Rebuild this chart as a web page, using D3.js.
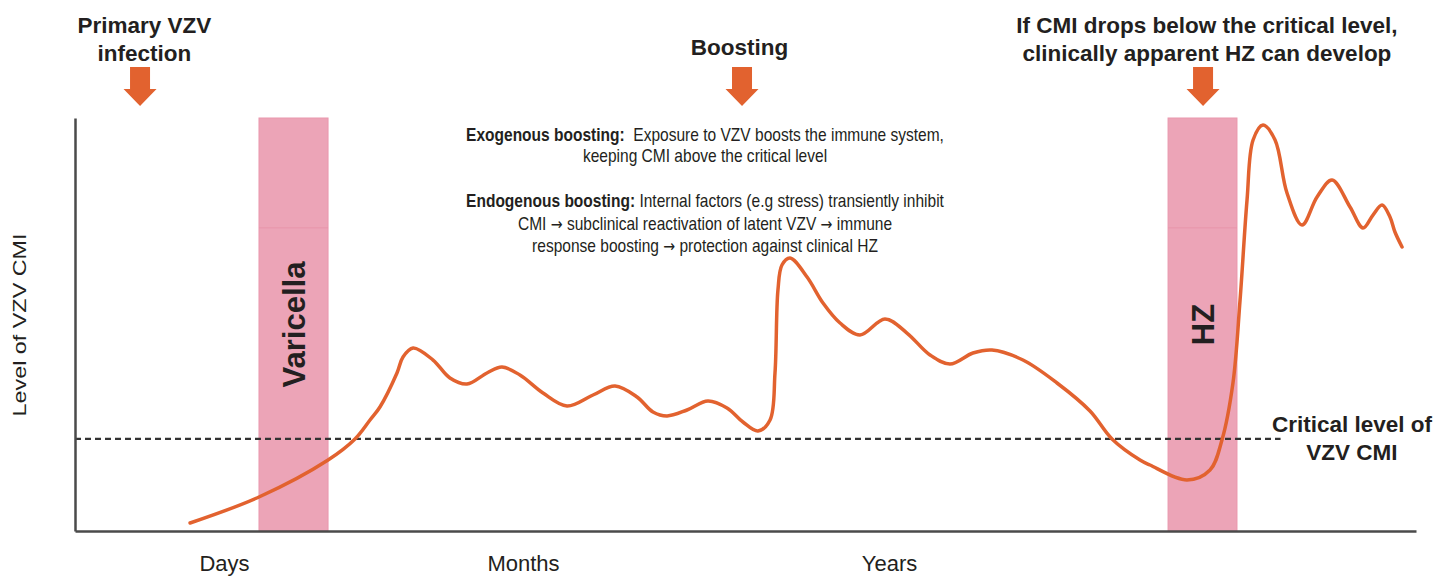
<!DOCTYPE html>
<html><head><meta charset="utf-8">
<script src="https://cdn.jsdelivr.net/npm/d3@7"></script>
<style>
body{margin:0;background:#fff}
svg{display:block}
text{font-family:"Liberation Sans",Arial,Helvetica,sans-serif;fill:#231f20}
</style>
</head><body>
<svg id="c" width="1451" height="576"></svg>
<script>
// ---- data (time index 0-100, CMI level 0-100) ----
const curveTime = [8.58,13.72,18.87,20.88,22.0,22.74,24.01,24.46,25.21,26.70,27.96,29.23,30.72,31.84,33.18,34.90,36.69,38.63,40.27,41.91,43.10,44.15,45.64,47.20,48.62,49.81,50.93,51.83,52.20,52.42,52.72,53.32,54.59,55.78,57.05,58.54,60.40,62.04,63.76,65.25,66.96,68.38,70.69,73.23,75.69,77.33,79.42,80.16,82.92,84.64,85.53,86.35,86.88,87.40,87.85,88.59,89.49,90.38,91.50,92.62,93.74,95.08,96.05,96.79,97.47,98.06,98.43,98.96];
const curveLevel = [1.94,8.23,17.19,22.28,26.88,30.02,38.26,42.13,44.31,41.40,37.05,35.59,38.26,39.71,37.77,33.41,30.27,32.93,35.11,32.45,28.81,27.85,29.30,31.48,29.78,26.39,24.21,26.88,38.26,58.35,64.41,66.10,61.50,55.21,50.36,47.46,51.33,47.94,42.62,40.44,43.10,43.83,41.40,35.84,29.06,22.28,17.19,15.98,12.35,14.77,22.03,35.84,55.93,80.15,94.67,98.31,94.67,81.84,74.09,80.87,84.99,78.45,73.37,76.51,78.93,76.03,72.40,68.77];
const criticalLevel = 22.3;
const criticalLineEnd = 89.9;
const bandLabels = ["Varicella","HZ"];
const bandStart = [13.72,81.51];
const bandEnd = [18.87,86.65];
const bandDivider = 73.4;
const timeTickPos = [11.11,33.41,60.70];
const timeTickLabels = ["Days","Months","Years"];
const arrowPos = [4.85,49.74,84.12];
const titlePos = [5.18,49.55,84.41];
const titleLines = [["Primary VZV","infection"],["Boosting"],["If CMI drops below the critical level,","clinically apparent HZ can develop"]];
const noteBold = ["Exogenous boosting:","", "Endogenous boosting:","",""];
const noteText = ["  Exposure to VZV boosts the immune system,","keeping CMI above the critical level"," Internal factors (e.g stress) transiently inhibit","CMI \u2192 subclinical reactivation of latent VZV \u2192 immune","response boosting \u2192 protection against clinical HZ"];
const criticalLabel = ["Critical level of","VZV CMI"];
const yAxisLabel = "Level of VZV CMI";

// ---- drawing ----
const orange = "#e2622f";
const svg = d3.select("#c");
const x = d3.scaleLinear().domain([0,100]).range([75,1416]);
const y = d3.scaleLinear().domain([0,100]).range([531,118]);

// bands
const bands = svg.append("g");
bandLabels.forEach((lab,i)=>{
  bands.append("rect").attr("x",x(bandStart[i])).attr("y",y(100))
    .attr("width",x(bandEnd[i])-x(bandStart[i])).attr("height",y(0)-y(100))
    .attr("fill","#eca4b7").attr("stroke","#ea98ae").attr("stroke-width",1);
  bands.append("line").attr("x1",x(bandStart[i])).attr("x2",x(bandEnd[i]))
    .attr("y1",y(bandDivider)).attr("y2",y(bandDivider))
    .attr("stroke","#e794aa").attr("stroke-width",1);
  const cx=(x(bandStart[i])+x(bandEnd[i]))/2;
  bands.append("text").attr("transform",`translate(${cx+11},${y(50)}) rotate(-90)`)
    .attr("text-anchor","middle").attr("font-size",31).attr("font-weight","bold").text(lab);
});

// critical level dashed line
svg.append("line").attr("x1",x(0)).attr("x2",x(criticalLineEnd))
  .attr("y1",y(criticalLevel)).attr("y2",y(criticalLevel))
  .attr("stroke","#333").attr("stroke-width",2.2).attr("stroke-dasharray","6,4");

// axes
const xAxis = svg.append("g").attr("transform",`translate(0,${y(0)})`)
  .call(d3.axisBottom(x).tickValues(timeTickPos).tickFormat((d,i)=>timeTickLabels[i]).tickSize(0).tickSizeOuter(0));
xAxis.select(".domain").attr("stroke","#4a4a4a").attr("stroke-width",2.5);
xAxis.selectAll("text").attr("y",40).attr("dy",0).attr("font-size",22)
  .attr("font-family","'Liberation Sans',Arial,sans-serif").attr("fill","#231f20");
const yAxis = svg.append("g").attr("transform",`translate(${x(0)},0)`)
  .call(d3.axisLeft(y).tickValues([]).tickSizeOuter(0));
yAxis.select(".domain").attr("stroke","#4a4a4a").attr("stroke-width",2.5);

svg.append("text").attr("transform","translate(26,325) rotate(-90)")
  .attr("text-anchor","middle").attr("font-size",18)
  .attr("textLength",183).attr("lengthAdjust","spacingAndGlyphs").text(yAxisLabel);

// curve
const pts = curveTime.map((t,i)=>[t,curveLevel[i]]);
svg.append("path").datum(pts)
  .attr("d",d3.line().x(d=>x(d[0])).y(d=>y(d[1])).curve(d3.curveCatmullRom.alpha(0.5)))
  .attr("fill","none").attr("stroke",orange).attr("stroke-width",3.5).attr("stroke-linecap","round");

// arrows and titles
arrowPos.forEach((p,i)=>{
  const cx = x(p);
  svg.append("path").attr("d",`M${cx-10},67 H${cx+10} V89 H${cx+16.5} L${cx},106 L${cx-16.5},89 H${cx-10} Z`)
    .attr("fill",orange);
  const tx = x(titlePos[i]);
  const lines = titleLines[i];
  const base = lines.length===1 ? 55 : 33;
  lines.forEach((l,j)=>{
    svg.append("text").attr("x",tx).attr("y",base+j*27.5).attr("text-anchor","middle")
      .attr("font-size",22.5).attr("font-weight","bold").text(l);
  });
});

// explanatory note
const noteY = [141,162,207,229.5,252];
noteText.forEach((t,i)=>{
  const tx = svg.append("text").attr("transform",`translate(705,${noteY[i]}) scale(0.835,1)`)
    .attr("text-anchor","middle").attr("font-size",18.6).style("white-space","pre");
  if(noteBold[i]) tx.append("tspan").attr("font-weight","bold").text(noteBold[i]);
  t.split("\u2192").forEach((part,k)=>{
    if(k>0) tx.append("tspan").attr("font-family","'DejaVu Sans',sans-serif").attr("font-size",17).text("\u2192");
    tx.append("tspan").text(part);
  });
});

// critical level label
criticalLabel.forEach((l,j)=>{
  svg.append("text").attr("x",1352).attr("y",432+j*28).attr("text-anchor","middle")
    .attr("font-size",22.5).attr("font-weight","bold").text(l);
});
</script>
</body></html>
